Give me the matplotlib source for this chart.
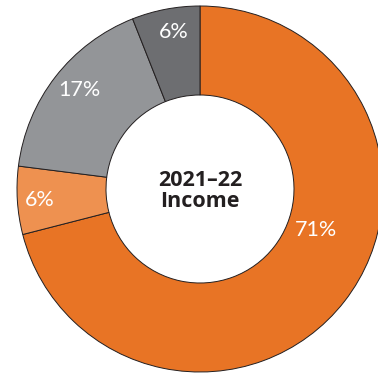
import matplotlib
matplotlib.use("Agg")
import matplotlib.pyplot as plt
import numpy as np

# Data
categories = ["Segment A", "Segment B", "Segment C", "Segment D"]
shares = [71, 6, 17, 6]
labels = ["71%", "6%", "17%", "6%"]
center_title = "2021\u201322\nIncome"

# Styling
colors = ["#E87425", "#EE9150", "#939598", "#6D6E71"]
label_angles = [-19.5, 184.0, 140.7, 99.6]   # degrees, label placement
label_radii = [0.672, 0.88, 0.853, 0.87]      # fraction of outer radius

W, H = 378, 373
fig = plt.figure(figsize=(W / 100, H / 100), dpi=100)
ax = fig.add_axes([0, 0, 1, 1])

R = 183.0
cx, cy = 200.0, 189.0
ax.pie(shares, colors=colors, startangle=90, counterclock=False,
       radius=1.0,
       wedgeprops=dict(width=1 - 94.0 / R, edgecolor="#231F20", linewidth=0.7))
ax.set_xlim(-cx / R, (W - cx) / R)
ax.set_ylim(-(H - cy) / R, cy / R)
ax.set_aspect("auto")
ax.axis("off")

for lab, ang, rr in zip(labels, label_angles, label_radii):
    a = np.deg2rad(ang)
    ax.text(rr * np.cos(a), rr * np.sin(a), lab, ha="center", va="center",
            color="white", fontsize=15.5, family=["Lato", "DejaVu Sans"])

ax.text(0, -0.01, center_title, ha="center", va="center", color="#231F20",
        fontsize=15.5, fontweight="bold", family=["Open Sans", "DejaVu Sans"],
        linespacing=0.97)

fig.savefig("out.png", dpi=100)
